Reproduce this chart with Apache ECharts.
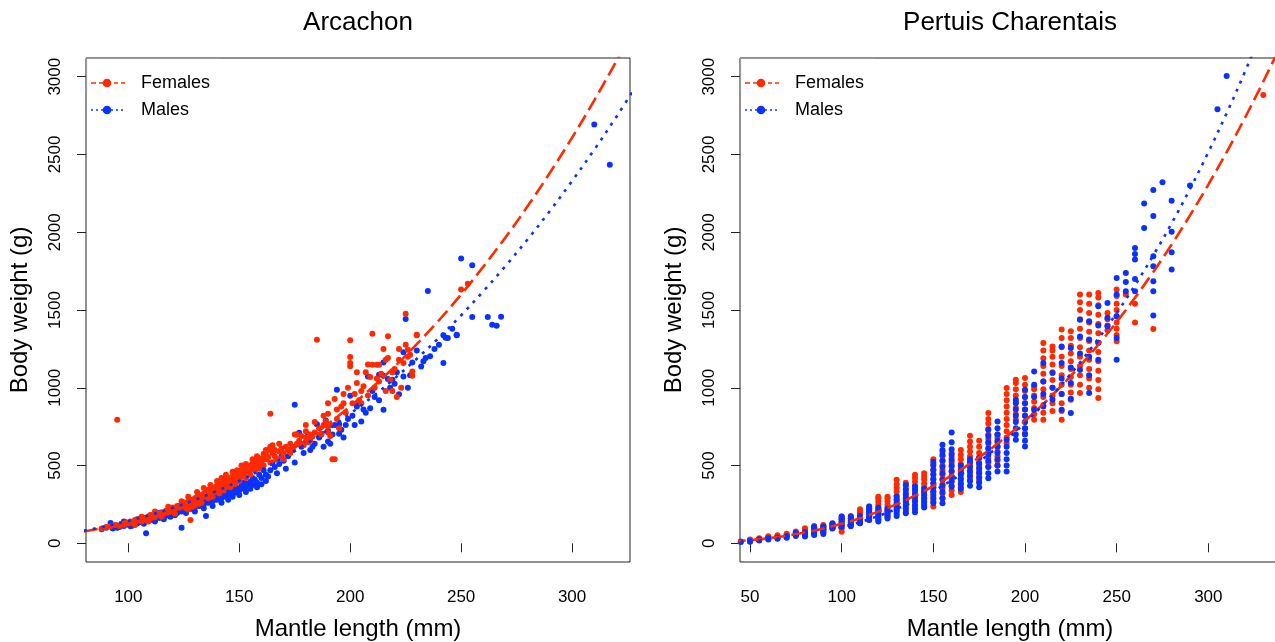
<!DOCTYPE html>
<html><head><meta charset="utf-8">
<script src="https://cdn.jsdelivr.net/npm/echarts@6/dist/echarts.min.js"></script>
<style>html,body{margin:0;padding:0;background:#fff}#c{width:1275px;height:642px}</style>
</head><body><div id="c"></div>
<script>
// ---------------- DATA ----------------
const panelTitles = ['Arcachon', 'Pertuis Charentais'];
const seriesNames = ['Females', 'Males'];
const xTicksLeft = [100, 150, 200, 250, 300];
const xTicksRight = [50, 100, 150, 200, 250, 300];
const yTicks = [0, 500, 1000, 1500, 2000, 2500, 3000];

// Arcachon, females: [mantle length mm, body weight g]
const arcFemales = [[88,95],[90,105],[92,110],[94,118],[95,794],[96,112],[97,125],[98,120],[99,135],[100,128],[101,140],[102,132],[103,150],[104,145],[105,158],[106,140],[107,165],[108,150],[109,172],[110,160],[110,182],[111,175],[112,168],[113,190],[114,182],[115,200],[116,188],[117,210],[118,198],[119,215],[120,205],[120,230],
[121,222],[122,240],[123,228],[124,250],[125,236],[125,262],[126,248],[127,270],[128,255],[128,280],[129,262],[130,290],[130,270],[131,300],[131,278],[132,285],[132,310],[133,295],[134,320],[134,300],[135,330],[135,305],[136,315],[136,345],[137,325],[137,350],[138,335],[139,360],[139,340],[140,372],[140,350],[140,330],
[141,362],[142,385],[142,345],[143,370],[143,395],[144,380],[144,410],[145,390],[145,365],[146,420],[146,395],[147,405],[147,430],[148,415],[148,445],[149,425],[149,395],[150,455],[150,430],[151,440],[151,470],[152,450],[152,480],[153,460],[154,490],[154,465],[155,500],[155,475],[156,510],[156,485],[157,520],[158,500],[158,530],[159,510],[160,525],[160,545],[161,500],[162,540],
[162,570],[163,600],[163,555],[164,833],[164,620],[165,580],[165,610],[166,560],[168,590],[170,540],[172,600],[173,640],[174,620],[175,700],[176,640],[177,660],[178,690],[179,630],[180,680],[180,720],[181,650],[182,700],[183,687],[184,713],[185,1309],[186,740],[187,704],[188,760],[189,783],[190,713],[190,833],[190,901],[190,751],[191,690],[192,540],[193,927],[193,541],
[194,860],[195,740],[196,880],[197,960],[198,840],[199,1000],[200,1305],[200,1198],[200,1159],[200,1138],[201,900],[202,960],[203,1030],[204,920],[205,980],[206,1010],[207,1099],[208,950],[209,1069],[210,1348],[210,1148],[211,1000],[212,1148],[213,1148],[213,1040],[214,1090],[215,1249],[216,980],[217,1191],[217,1331],[218,1050],[219,1100],[220,1120],[221,940],[222,1180],[223,1000],[225,1476],[225,1277],[226,1245],[226,1200],[227,1213],[228,1105],[228,1077],[230,1341],[230,1337],[250,1631],[253,1668],
[103,118],[106,170],[109,140],[112,205],[115,170],[118,235],[121,190],[124,270],[126,225],[127,300],[129,235],[131,330],[133,260],[134,355],[136,290],[137,375],[138,300],[140,400],[141,320],[142,420],[143,340],[144,440],[146,360],[147,460],[148,380],[149,470],[150,400],[151,500],[153,420],[153,510],[155,440],[156,540],[157,470],[158,560],[159,480],[160,500],[161,575],[162,600],[164,520],[165,630],[166,600],[167,540],[168,640],[169,610],[170,580],[171,620],[173,580],[176,700],[178,640],[180,760],[182,660],[184,780],[186,700],[188,820],[191,760],[194,800],[197,900],[203,1100],[205,900],[208,1150],[212,1060],[216,1180],[219,980],[222,1250],[224,1160],[127,218],[130,245],[128,150],[132,255]];

// Arcachon, males
const arcMales = [[88,90],[90,100],[92,108],[93,95],[95,115],[96,105],[97,125],[98,112],[99,128],[100,120],[101,135],[102,115],[103,140],[104,128],[105,150],[106,135],[107,155],[108,64],[108,140],[109,160],[110,150],[111,165],[112,155],[113,175],[114,162],[115,185],[116,170],[117,190],[118,178],[119,200],[120,185],[121,208],[122,195],[123,215],[124,100],[124,205],[125,225],[126,210],[127,235],[128,220],[129,245],[130,230],[131,255],[132,240],[133,265],[134,250],[135,176],[135,275],[136,260],[137,285],[138,270],[139,295],[140,280],[141,305],[142,290],[143,320],[144,300],[145,330],[146,315],[147,345],[148,325],[149,355],[150,340],[151,370],[152,350],[153,385],[154,365],[155,395],[156,375],[157,410],[158,390],[160,420],[162,440],[164,470],[166,490],[168,510],[170,530],[172,560],[174,600],[175,891],[176,700],[177,710],[178,620],[180,650],[182,600],[184,640],[185,766],[186,680],[188,620],[189,790],[190,723],[190,655],[192,700],[194,987],[195,766],[195,704],[196,730],[198,760],[200,949],[201,820],[203,880],[205,783],[206,860],[208,1073],[209,869],[211,940],[213,1084],[215,1077],[215,858],[215,1163],[217,1056],[219,1052],[220,1026],[222,959],[224,1228],[224,1073],[225,1442],[226,1000],[228,1163],[232,1137],[234,1191],[235,1622],[236,1202],[240,1277],[242,1159],[242,1337],[243,1322],[244,1320],[248,1337],[248,1341],[250,1831],[255,1788],[255,1455],[262,1455],[264,1405],[266,1399],[268,1457],[310,2692],[317,2434],
[92,130],[95,100],[98,140],[101,110],[104,155],[107,125],[110,180],[112,140],[114,195],[116,155],[119,170],[121,180],[123,240],[126,195],[128,260],[130,205],[132,270],[134,225],[136,290],[138,240],[140,310],[142,260],[144,330],[145,280],[147,300],[148,360],[150,310],[152,390],[153,330],[155,350],[156,420],[158,360],[159,440],[160,380],[161,470],[162,400],[163,430],[165,520],[167,450],[169,560],[171,480],[173,600],[175,520],[177,640],[179,580],[181,700],[183,620],[187,700],[191,640],[193,760],[197,680],[199,800],[202,760],[204,900],[207,840],[210,980],[213,920],[218,1000],[221,1100],[227,1080],[230,1240],[233,1170],[238,1250],[246,1380]];

// Pertuis Charentais: lengths (mm) and the weights (g) measured at each length
const pcFemLengths = [50,55,60,65,70,75,80,85,90,95,100,105,110,115,120,125,130,135,140,145,150,155,160,165,170,175,180,185,190,195,200,205,210,215,220,225,230,235,240,245,250,255,260,270,330];
const pcFemWeights = [[15,20,24],[22,28,33],[35,40,45],[40,47,52],[50,56,62],[55,62,70,76],[72,80,88,97],[75,85,95,104,112],[75,88,100,110,118],[95,105,115,125],[75,95,110,125,140,155,172],[120,132,145,160,175],[129,145,160,175,190,205,219],[150,165,180,195,210,225,236],[150,170,190,210,230,250,270,290,300],[172,190,210,230,250,270,290,300],[215,235,255,280,305,330,355,380,408],[200,225,250,275,300,325,350,375,390],[220,245,270,295,320,345,370,395,420,440],[236,260,285,310,335,360,385,410,430,451],[236,265,295,325,355,385,415,445,475,510,541],[290,320,350,380,410,440,470,500,530,560,590],[310,340,370,400,430,460,490,520,550,580],[330,360,390,420,450,480,510,540,570,600],[407,440,470,500,530,560,590,620,655,691],[400,430,460,490,520,550,580,620,660],[493,520,550,580,610,640,670,700,735,770,800,837],[500,530,560,590,620,650,680,700],[644,680,720,760,800,840,880,920,960,998],[794,830,870,910,950,990,1030,1052],[708,740,780,820,860,900,940,980,1020,1062],[794,830,870,910,950,990,1009],[794,840,890,940,990,1040,1090,1140,1190,1240,1288],[850,900,950,1000,1050,1100,1150,1200,1240,1266],[794,850,900,960,1020,1080,1140,1200,1260,1320,1374],[923,970,1020,1070,1120,1170,1220,1270,1320,1363],[966,1020,1080,1140,1200,1260,1320,1380,1440,1500,1550,1599],[1000,1060,1120,1180,1240,1300,1360,1420,1480,1540,1599],[934,990,1050,1110,1170,1230,1290,1350,1410,1470,1530,1580,1610],[1370,1400,1440,1480],[1299,1340,1380,1420,1460,1500,1540,1590,1631],[1600],[1420,1540],[1378],[2883]];
const pcMaleLengths = [45,50,55,60,65,70,75,80,85,90,95,100,105,110,115,120,125,130,135,140,145,150,155,160,165,170,175,180,185,190,195,200,205,210,215,220,225,230,235,240,245,250,255,260,265,270,275,280,290,305,310];
const pcMaleWeights = [[8,11],[10,14,17],[18,22,26],[24,28,32],[30,34,38],[36,40,45],[47,55,62,68],[43,50,57,65,72],[53,62,72,82,92,100,107],[60,70,80,90,100,108],[96,105,115,122,129],[107,118,130,142,154,165,172],[110,122,135,148,160,170],[129,138,148,158,168,175],[150,162,175,188,200,212,225,236],[140,155,170,185,200,215,228],[160,172,185,198,210,222],[175,190,205,220,240,260,280,300],[193,215,240,265,290,315,345,375],[200,222,245,270,295,320,345,365],[230,250,270,290,310,330,350],[260,285,310,335,360,385,410,440,470,500,525],[257,290,330,370,410,450,490,530,570,600,633],[364,395,430,465,500,535,570,605,650,712],[350,380,410,440,470,500],[370,400,430,460,490,520,540],[360,390,420,450,480,510,550],[418,450,490,530,570,610,650,690,730],[461,500,540,580,620,660,700,740,783],[461,500,540,580,620,665],[665,700,740,780,820,860,900,923],[622,660,700,740,780,820,860,900,940,987],[858,940,1020,1105],[880,960,1040,1159],[923,1000,1095],[858,960,1060,1160,1266],[837,930,1030,1130,1255],[1116,1220,1330,1438],[966,1080,1200,1310,1427],[1180,1290,1400,1524],[1395,1450,1545],[1180,1320,1460,1600,1706],[1620,1680,1738],[1620,1700,1824,1860,1899],[2028,2185],[1464,1620,1685,1781,1846,2104,2271],[2322],[1760,1871,2003,2202],[2301],[2790],[3005]];

// Fitted length-weight curves
const arcCurveLengths = [80,90,100,110,120,130,140,150,160,170,180,190,200,210,220,230,240,250,260,270,280,290,300,310,320,330];
const arcFemCurve = [75.5,103.5,137,177,224,277,338,407,484,569,663,767,880,1003,1136,1280,1434,1600,1779,1967,2168,2382,2608,2848,3101,3370];
const arcMaleCurve = [81.4,109.8,143.5,182.7,228,279,337,401,473,551,637,731,833,942,1060,1187,1322,1466,1620,1783,1955,2137,2329,2531,2743,2966];
const pcCurveLengths = [40,50,60,70,80,90,100,110,120,130,140,150,160,170,180,190,200,210,220,230,240,250,260,270,280,290,300,310,320,330,340];
const pcFemCurve = [11.1,20.0,32.5,48.8,69.6,95.0,125.6,161.7,203.6,251.7,306.3,367.7,436.3,512.2,596.0,687.7,787.8,896.5,1014,1141,1277,1423,1579,1745,1921,2108,2306,2515,2736,2969,3213];
const pcMaleCurve = [7.2,13.8,23.4,36.7,54.0,76.1,103.3,136.3,175.5,221.5,274.6,335.7,404.9,482.8,570.0,666.9,774.1,891.9,1021,1162,1315,1480,1659,1851,2057,2278,2514,2765,3032,3316,3616];

// ---------------- CHART ----------------
const RED = '#ff2a00', BLUE = '#0a32ff';
const FONT = '"Liberation Sans", Arial, Helvetica, sans-serif';
function flatten(lengths, weights) {
  const out = [];
  lengths.forEach((L, i) => weights[i].forEach(w => out.push([L, w])));
  return out;
}
function zipCurve(xs, ys) { return xs.map((x, i) => [x, ys[i]]); }

const grids = [
  {left: 86, top: 58, width: 544, height: 504},
  {left: 740, top: 58, width: 540, height: 504}
];
const xRanges = [[80.93, 326.1], [44.55, 339.1]];
const xTickSets = [xTicksLeft, xTicksRight];

const chart = echarts.init(document.getElementById('c'), null, {renderer: 'canvas'});

const xAxes = [0, 1].map(i => ({
  type: 'value', gridIndex: i, min: xRanges[i][0], max: xRanges[i][1],
  name: 'Mantle length (mm)', nameLocation: 'middle', nameGap: 55,
  nameTextStyle: {color: '#000', fontSize: 24, fontFamily: FONT},
  splitLine: {show: false}, axisLine: {show: false},
  axisTick: {show: true, length: 9, lineStyle: {color: '#222', width: 1}, customValues: xTickSets[i]},
  axisLabel: {color: '#000', fontSize: 17, fontFamily: FONT, margin: 27, customValues: xTickSets[i], formatter: v => String(v)}
}));
const yAxes = [0, 1].map(i => ({
  type: 'value', gridIndex: i, min: -120.2, max: 3120.2,
  name: 'Body weight (g)', nameLocation: 'middle', nameGap: 54, nameRotate: 90,
  nameTextStyle: {color: '#000', fontSize: 24, fontFamily: FONT},
  splitLine: {show: false}, axisLine: {show: false},
  axisTick: {show: true, length: 9, lineStyle: {color: '#222', width: 1}, customValues: yTicks},
  axisLabel: {color: '#000', fontSize: 17, fontFamily: FONT, margin: 22, rotate: 90, customValues: yTicks, formatter: v => String(v)}
}));

function scatter(name, data, color, idx) {
  return {type: 'scatter', name, data, xAxisIndex: idx, yAxisIndex: idx, symbol: 'circle', symbolSize: 6,
    itemStyle: {color, opacity: 1}, z: 2, silent: true, animation: false};
}
function curve(name, data, color, dash, idx) {
  return {type: 'line', name, data, xAxisIndex: idx, yAxisIndex: idx, smooth: 0.35, showSymbol: false, clip: true,
    lineStyle: {color, width: 2.6, type: dash, cap: 'butt'}, z: 5, silent: true, animation: false};
}

const series = [
  scatter('Males', arcMales, BLUE, 0),
  scatter('Females', arcFemales, RED, 0),
  scatter('Females', flatten(pcFemLengths, pcFemWeights), RED, 1),
  scatter('Males', flatten(pcMaleLengths, pcMaleWeights), BLUE, 1),
  curve('Females', zipCurve(arcCurveLengths, arcFemCurve), RED, [14, 6], 0),
  curve('Males', zipCurve(arcCurveLengths, arcMaleCurve), BLUE, [3, 6], 0),
  curve('Females', zipCurve(pcCurveLengths, pcFemCurve), RED, [14, 6], 1),
  curve('Males', zipCurve(pcCurveLengths, pcMaleCurve), BLUE, [3, 6], 1)
];

// legend drawn as graphics (top-left of each panel)
const graphic = [];
grids.forEach((g, i) => {
  const x0 = g.left;
  graphic.push({type: 'line', shape: {x1: x0, y1: 58.5, x2: x0 + 134, y2: 58.5}, style: {stroke: '#9a9a9a', lineWidth: 1.2}, z: 20});
  graphic.push({type: 'line', shape: {x1: x0 + 0.5, y1: 58, x2: x0 + 0.5, y2: 93}, style: {stroke: '#9a9a9a', lineWidth: 1.2}, z: 20});
  [[RED, [5, 3, 4, 3], 83, seriesNames[0]], [BLUE, [2, 3], 110, seriesNames[1]]].forEach(([col, dash, y, txt]) => {
    graphic.push({type: 'line', shape: {x1: x0 + 5, y1: y, x2: x0 + 39, y2: y}, style: {stroke: col, lineWidth: 1.3, lineDash: dash}, z: 20});
    graphic.push({type: 'circle', shape: {cx: x0 + 21, cy: y, r: 4.3}, style: {fill: col}, z: 21});
    graphic.push({type: 'text', x: x0 + 55, y: y, style: {text: txt, fill: '#000', font: '18px ' + FONT, textVerticalAlign: 'middle', textAlign: 'left'}, z: 21});
  });
});

chart.setOption({
  backgroundColor: '#fff',
  animation: false,
  title: panelTitles.map((t, i) => ({
    text: t, left: grids[i].left + grids[i].width / 2, top: 10, textAlign: 'center', padding: 0,
    textStyle: {color: '#000', fontSize: 26, fontWeight: 'normal', fontFamily: FONT}
  })),
  grid: grids.map(g => Object.assign({show: true, borderColor: '#222', borderWidth: 1, backgroundColor: 'transparent', containLabel: false, outerBoundsMode: 'none'}, g)),
  xAxis: xAxes,
  yAxis: yAxes,
  series,
  graphic
});
</script></body></html>
